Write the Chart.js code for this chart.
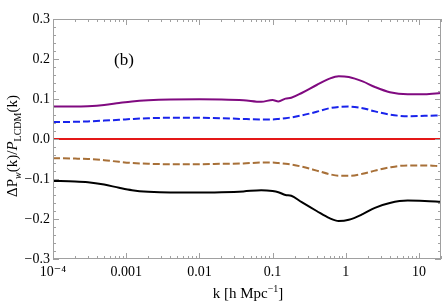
<!DOCTYPE html>
<html>
<head>
<meta charset="utf-8">
<script src="https://cdn.jsdelivr.net/npm/chart.js@4.4.1/dist/chart.umd.min.js"></script>
<style>
  html, body { margin: 0; padding: 0; background: #fff; }
</style>
</head>
<body>
<canvas id="myChart" width="443" height="304"></canvas>
<script>
// wavenumbers k [h/Mpc]
const kValues = [1e-4, 2e-4, 3e-4, 5e-4, 8e-4, 0.0012, 0.002, 0.004, 0.01, 0.02, 0.04, 0.07, 0.1, 0.12, 0.15, 0.18, 0.25, 0.4, 0.6, 0.8, 1.1, 1.7, 2.5, 4, 7, 12, 20];

const purpleSeries = [0.081, 0.081, 0.082, 0.085, 0.090, 0.094, 0.097, 0.099, 0.0995, 0.099, 0.097, 0.093, 0.0975, 0.094, 0.101, 0.103, 0.115, 0.135, 0.151, 0.157, 0.155, 0.144, 0.130, 0.117, 0.112, 0.112, 0.115];
const blueSeries = [0.0425, 0.043, 0.044, 0.046, 0.048, 0.050, 0.052, 0.053, 0.053, 0.052, 0.050, 0.049, 0.049, 0.050, 0.052, 0.054, 0.059, 0.068, 0.077, 0.080, 0.081, 0.077, 0.069, 0.061, 0.057, 0.058, 0.059];
const redSeries = [0, 0, 0, 0, 0, 0, 0, 0, 0, 0, 0, 0, 0, 0, 0, 0, 0, 0, 0, 0, 0, 0, 0, 0, 0, 0, 0];
const brownSeries = [-0.048, -0.049, -0.050, -0.053, -0.057, -0.060, -0.062, -0.063, -0.063, -0.062, -0.061, -0.059, -0.059, -0.060, -0.062, -0.064, -0.069, -0.079, -0.088, -0.092, -0.092, -0.087, -0.079, -0.071, -0.066, -0.066, -0.068];
const blackSeries = [-0.105, -0.106, -0.108, -0.114, -0.122, -0.128, -0.132, -0.134, -0.134, -0.133, -0.131, -0.128, -0.130, -0.133, -0.140, -0.142, -0.158, -0.180, -0.198, -0.205, -0.202, -0.188, -0.172, -0.160, -0.154, -0.155, -0.157];

// tick labels
const xTicks = [1e-4, 0.001, 0.01, 0.1, 1, 10];
const xTickLabels = ['10\u207B\u2074', '0.001', '0.01', '0.1', '1', '10'];
const yTicks = [-0.3, -0.2, -0.1, 0, 0.1, 0.2, 0.3];
const yTickLabels = ['\u22120.3', '\u22120.2', '\u22120.1', '0.0', '0.1', '0.2', '0.3'];

const serif = '"Liberation Serif", "DejaVu Serif", serif';

function toPoints(ys) {
  return kValues.map((k, i) => ({ x: k, y: ys[i] }));
}

function lineSet(ys, color, dash) {
  return {
    data: toPoints(ys),
    borderColor: color,
    borderWidth: 2,
    borderDash: dash || [],
    pointRadius: 0,
    cubicInterpolationMode: 'monotone',
    fill: false
  };
}

// frame, inside ticks and titles
const framePlugin = {
  id: 'frame',
  afterDraw(chart) {
    const ctx = chart.ctx;
    const a = chart.chartArea;
    const xs = chart.scales.x;
    const ys = chart.scales.y;
    ctx.save();
    ctx.strokeStyle = '#a0a0a0';
    ctx.lineWidth = 1;
    ctx.strokeRect(a.left + 0.5, a.top + 0.5, a.right - a.left - 1, a.bottom - a.top - 1);

    ctx.beginPath();
    // x ticks (major + minor), top and bottom
    for (let e = -4; e <= 1; e++) {
      for (let m = 1; m <= 9; m++) {
        const v = m * Math.pow(10, e);
        if (v > 20) break;
        const px = Math.round(xs.getPixelForValue(v)) + 0.5;
        const len = m === 1 ? 6 : 3;
        ctx.moveTo(px, a.bottom); ctx.lineTo(px, a.bottom - len);
        ctx.moveTo(px, a.top); ctx.lineTo(px, a.top + len);
      }
    }
    // y ticks, left and right
    for (let i = -15; i <= 15; i++) {
      const v = i * 0.02;
      const py = Math.round(ys.getPixelForValue(v)) + 0.5;
      const len = i % 5 === 0 ? 6 : 3;
      ctx.moveTo(a.left, py); ctx.lineTo(a.left + len, py);
      ctx.moveTo(a.right, py); ctx.lineTo(a.right - len, py);
    }
    ctx.stroke();

    ctx.fillStyle = '#000';
    ctx.textBaseline = 'alphabetic';

    // panel label
    ctx.font = '17px ' + serif;
    ctx.textAlign = 'center';
    ctx.fillText('(b)', 124, 65);

    // x title: k [h Mpc^-1]
    const xParts = [
      { t: 'k [h Mpc', f: '15px ' + serif, dy: 0 },
      { t: '\u22121', f: '10px ' + serif, dy: -6 },
      { t: ']', f: '15px ' + serif, dy: 0 }
    ];
    drawParts(ctx, xParts, 248, 298);

    // y title: ΔP_w(k)/P_LCDM(k)
    const yParts = [
      { t: '\u0394P', f: '15px ' + serif, dy: 0 },
      { t: 'w', f: 'italic 10px ' + serif, dy: 4 },
      { t: '(k)/', f: '15px ' + serif, dy: 0 },
      { t: 'P', f: 'italic 15px ' + serif, dy: 0 },
      { t: 'LCDM', f: '10px ' + serif, dy: 4 },
      { t: '(k)', f: '15px ' + serif, dy: 0 }
    ];
    ctx.translate(17, 146);
    ctx.rotate(-Math.PI / 2);
    drawParts(ctx, yParts, 0, 0);
    ctx.restore();
  }
};

function drawParts(ctx, parts, cx, baseY) {
  let total = 0;
  parts.forEach(p => { ctx.font = p.f; total += ctx.measureText(p.t).width; });
  let x = cx - total / 2;
  ctx.textAlign = 'left';
  parts.forEach(p => {
    ctx.font = p.f;
    ctx.fillText(p.t, x, baseY + p.dy);
    x += ctx.measureText(p.t).width;
  });
}

const ctx = document.getElementById('myChart').getContext('2d');
const myChart = new Chart(ctx, {
  type: 'line',
  data: {
    datasets: [
      lineSet(redSeries, 'rgb(228, 24, 24)'),
      lineSet(purpleSeries, 'rgb(128, 10, 128)'),
      lineSet(blueSeries, 'rgb(25, 35, 235)', [7, 3]),
      lineSet(brownSeries, 'rgb(168, 112, 56)', [7, 3]),
      lineSet(blackSeries, '#000')
    ]
  },
  options: {
    responsive: false,
    animation: false,
    layout: { padding: { top: 19, right: 2, left: 0, bottom: 0 } },
    plugins: {
      legend: { display: false },
      tooltip: { enabled: false }
    },
    scales: {
      x: {
        type: 'logarithmic',
        min: 1e-4,
        max: 20,
        border: { display: false },
        grid: { display: false, drawTicks: false },
        afterBuildTicks: s => { s.ticks = xTicks.map(v => ({ value: v })); },
        afterFit: s => { s.height = 45; },
        ticks: {
          autoSkip: false,
          maxRotation: 0,
          padding: 5,
          color: '#000',
          font: { family: serif, size: 14 },
          callback: function(value) {
            const i = xTicks.findIndex(t => Math.abs(t - value) / t < 1e-6);
            return i >= 0 ? xTickLabels[i] : '';
          }
        }
      },
      y: {
        min: -0.3,
        max: 0.3,
        border: { display: false },
        grid: { display: false, drawTicks: false },
        afterBuildTicks: s => { s.ticks = yTicks.map(v => ({ value: v })); },
        afterFit: s => { s.width = 53; },
        ticks: {
          padding: 3,
          color: '#000',
          font: { family: serif, size: 14 },
          callback: function(value) {
            const i = yTicks.findIndex(t => Math.abs(t - value) < 1e-6);
            return i >= 0 ? yTickLabels[i] : '';
          }
        }
      }
    }
  },
  plugins: [framePlugin]
});
</script>
</body>
</html>
